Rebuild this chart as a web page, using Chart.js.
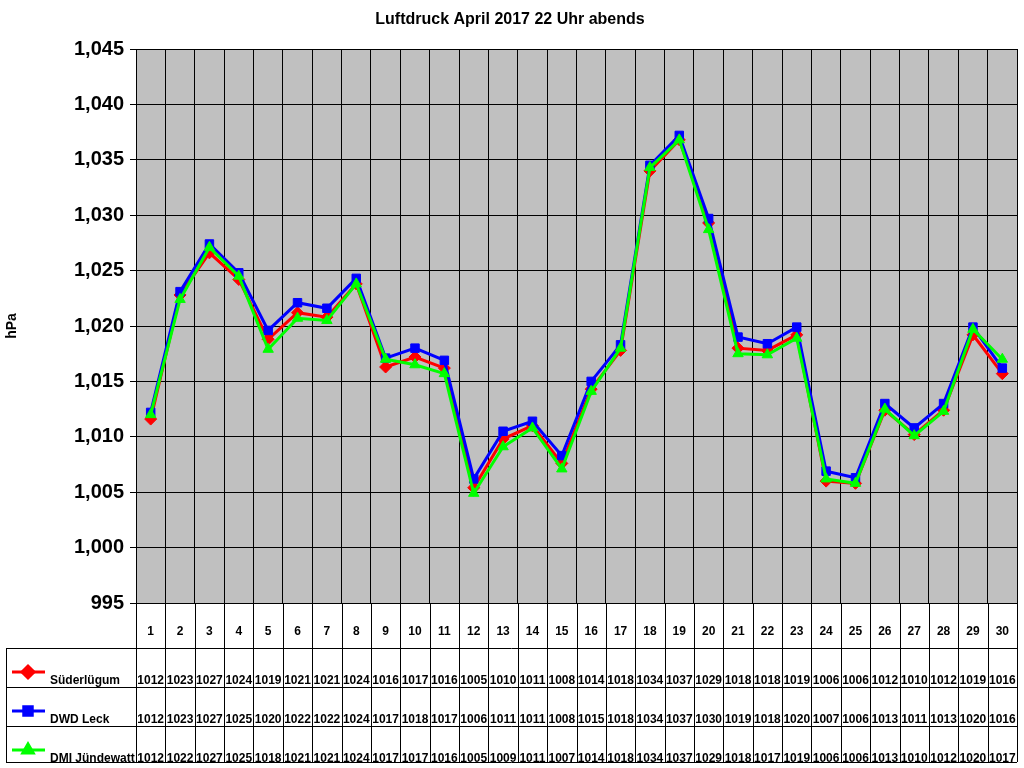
<!DOCTYPE html>
<html lang="de">
<head>
<meta charset="UTF-8">
<title>Luftdruck April 2017 22 Uhr abends</title>
<script src="https://cdn.jsdelivr.net/npm/chart.js"></script>
<style>
  body { margin: 0; background: #fff; }
  #wrap { width: 1024px; height: 768px; }
</style>
</head>
<body>
<div id="wrap"><canvas id="chart" width="1024" height="768"></canvas></div>
<script>
// Tage im April
const days = ['1','2','3','4','5','6','7','8','9','10','11','12','13','14','15','16','17','18','19','20','21','22','23','24','25','26','27','28','29','30'];

// Werte aus dem Diagramm geschaetzt
const suederluegum = [1011.6,1022.8,1026.6,1024.2,1018.8,1021.2,1020.8,1023.8,1016.3,1017.2,1016.2,1005.4,1009.8,1011.0,1007.6,1014.3,1017.8,1034.0,1036.8,1029.3,1018.0,1017.8,1019.2,1006.0,1005.8,1012.4,1010.2,1012.4,1019.2,1015.7];
const dwdLeck = [1012.2,1023.1,1027.4,1024.8,1019.6,1022.1,1021.6,1024.3,1017.1,1018.0,1016.9,1006.2,1010.5,1011.4,1008.3,1015.0,1018.3,1034.5,1037.2,1029.7,1019.0,1018.4,1019.9,1006.9,1006.3,1013.0,1010.8,1013.0,1019.9,1016.2];
const dmiJuendewatt = [1012.0,1022.4,1027.1,1024.5,1017.9,1020.7,1020.5,1023.8,1017.0,1016.5,1015.7,1004.9,1009.1,1010.8,1007.1,1014.1,1018.0,1034.3,1036.8,1028.7,1017.5,1017.4,1018.9,1006.2,1005.8,1012.5,1010.1,1012.3,1019.7,1017.0];

// Datentabelle unter dem Diagramm
const tableSued = [1012,1023,1027,1024,1019,1021,1021,1024,1016,1017,1016,1005,1010,1011,1008,1014,1018,1034,1037,1029,1018,1018,1019,1006,1006,1012,1010,1012,1019,1016];
const tableLeck = [1012,1023,1027,1025,1020,1022,1022,1024,1017,1018,1017,1006,1011,1011,1008,1015,1018,1034,1037,1030,1019,1018,1020,1007,1006,1013,1011,1013,1020,1016];
const tableDmi = [1012,1022,1027,1025,1018,1021,1021,1024,1017,1017,1016,1005,1009,1011,1007,1014,1018,1034,1037,1029,1018,1017,1019,1006,1006,1013,1010,1012,1020,1017];

const seriesNames = ['Süderlügum', 'DWD Leck', 'DMI Jündewatt'];
const seriesColors = ['#ff0000', '#0000ff', '#00ff00'];
const seriesStyles = ['rectRot', 'rect', 'triangle'];
const tableRows = [tableSued, tableLeck, tableDmi];

// Titel, Hintergrund und Tabelle
const tablePlugin = {
  id: 'tablePlugin',
  beforeDraw(chart) {
    const { ctx, chartArea: a } = chart;
    ctx.save();
    ctx.fillStyle = '#c0c0c0';
    ctx.fillRect(a.left, a.top, a.right - a.left, a.bottom - a.top);
    ctx.restore();
  },
  afterDraw(chart) {
    const { ctx, chartArea: a } = chart;
    const x = chart.scales.x;
    const rowLines = [648, 687, 726, 762];
    const tableLeft = 6;
    ctx.save();
    ctx.fillStyle = '#000';
    ctx.font = 'bold 16px Arial, "Liberation Sans", sans-serif';
    ctx.textAlign = 'center';
    ctx.textBaseline = 'middle';
    ctx.fillText('Luftdruck April 2017 22 Uhr abends', 510, 20);

    ctx.strokeStyle = '#000';
    ctx.lineWidth = 1;
    ctx.beginPath();
    ctx.rect(a.left + 0.5, a.top + 0.5, a.right - a.left, a.bottom - a.top);
    // vertikale Linien der Tabelle
    for (let i = 0; i <= days.length; i++) {
      const px = Math.round(a.left + (a.right - a.left) * i / days.length) + 0.5;
      ctx.moveTo(px, a.bottom);
      ctx.lineTo(px, rowLines[3]);
    }
    rowLines.forEach(y => {
      ctx.moveTo(tableLeft, y + 0.5);
      ctx.lineTo(a.right, y + 0.5);
    });
    ctx.moveTo(tableLeft + 0.5, rowLines[0]);
    ctx.lineTo(tableLeft + 0.5, rowLines[3]);
    ctx.stroke();

    ctx.font = 'bold 12px Arial, "Liberation Sans", sans-serif';
    days.forEach((d, i) => ctx.fillText(d, x.getPixelForValue(i), 632));

    ctx.textBaseline = 'alphabetic';
    tableRows.forEach((row, r) => {
      const yText = rowLines[r] + 36;
      ctx.textAlign = 'center';
      ctx.fillStyle = '#000';
      row.forEach((v, i) => ctx.fillText(String(v), x.getPixelForValue(i), yText));
      // Legende
      const ly = rowLines[r] + 24;
      ctx.strokeStyle = seriesColors[r];
      ctx.fillStyle = seriesColors[r];
      ctx.lineWidth = 3;
      ctx.beginPath();
      ctx.moveTo(12, ly);
      ctx.lineTo(45, ly);
      ctx.stroke();
      Chart.helpers.drawPoint(ctx, { pointStyle: seriesStyles[r], radius: 6, borderWidth: 1 }, 28, ly);
      ctx.fillStyle = '#000';
      ctx.textAlign = 'left';
      ctx.fillText(seriesNames[r], 50, yText);
    });
    ctx.restore();
  }
};

const dataSets = [suederluegum, dwdLeck, dmiJuendewatt].map((d, i) => ({
  label: seriesNames[i],
  data: d,
  borderColor: seriesColors[i],
  backgroundColor: seriesColors[i],
  pointStyle: seriesStyles[i],
  pointRadius: 6,
  pointBorderWidth: 1,
  borderWidth: 3,
  order: 3 - i,
  tension: 0
}));

new Chart(document.getElementById('chart').getContext('2d'), {
  type: 'line',
  data: { labels: days, datasets: dataSets },
  plugins: [tablePlugin],
  options: {
    responsive: false,
    animation: false,
    layout: { padding: { top: 49, bottom: 165, right: 4, left: 0 } },
    plugins: { legend: { display: false }, title: { display: false }, tooltip: { enabled: false } },
    scales: {
      x: {
        offset: true,
        ticks: { display: false },
        grid: { offset: true, color: '#000', drawTicks: false },
        border: { color: '#000' }
      },
      y: {
        min: 995,
        max: 1045,
        ticks: { stepSize: 5, color: '#000', font: { size: 20, weight: 'bold', family: 'Arial' }, padding: 6 },
        grid: { color: '#000', tickLength: 6 },
        border: { color: '#000' },
        title: { display: true, text: 'hPa', color: '#000', font: { size: 14, weight: 'bold', family: 'Arial' } },
        afterFit(scale) { scale.width = 136; }
      }
    }
  }
});
</script>
</body>
</html>
